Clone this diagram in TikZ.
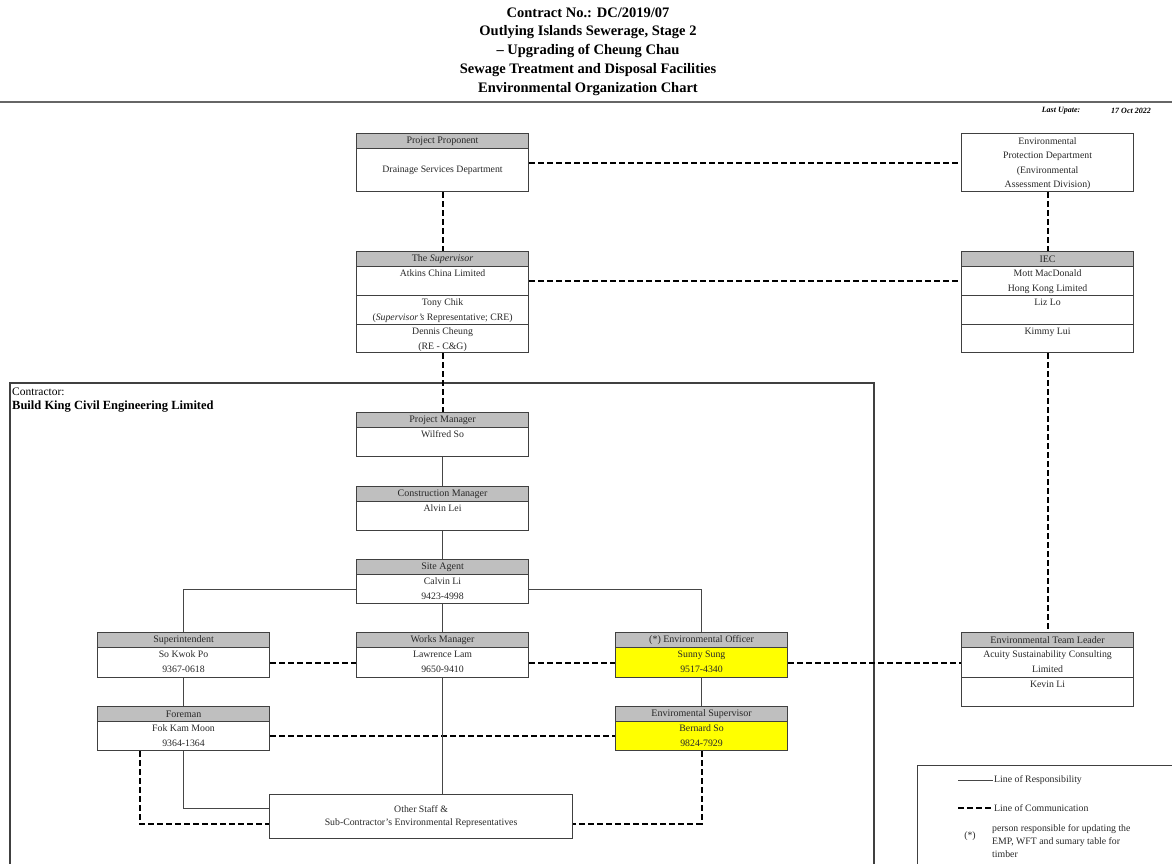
\documentclass[tikz,border=0pt]{standalone}
\usepackage{fontspec}
\setmainfont{Liberation Serif}
\definecolor{hdrc}{RGB}{191,191,191}
\definecolor{boxc}{RGB}{64,64,64}
\definecolor{linec}{RGB}{70,70,70}
\definecolor{txtc}{RGB}{40,40,40}
\definecolor{hiy}{RGB}{255,255,0}
\begin{document}
\begin{tikzpicture}[x=1pt,y=-1pt,
  sec/.style={draw=boxc, line width=1.1pt, minimum width=172pt, inner sep=0pt, anchor=north west, fill=white},
  hdr/.style={sec, fill=hdrc, minimum height=15pt, font=\fontsize{10}{12}\selectfont, text=txtc},
  txt/.style={inner sep=0pt, anchor=north, align=center, font=\fontsize{9.8}{14.5}\selectfont, text=txtc},
  resp/.style={draw=linec, line width=0.9pt},
  comm/.style={draw=black, line width=2pt, dash pattern=on 6pt off 3pt},
  ttl/.style={inner sep=0pt, font=\fontsize{14.5}{16}\selectfont\bfseries, text=black},
]
\useasboundingbox (0,0) rectangle (1172,864);
\clip (0,0) rectangle (1172,864);
\fill[white] (0,0) rectangle (1172,864);

% title
\node[ttl] (t1) at (588,13) {Contract No.: DC/2019/07};
\node[ttl] (t2) at (588,32) {Outlying Islands Sewerage, Stage 2};
\node[ttl] (t3) at (588,51) {– Upgrading of Cheung Chau};
\node[ttl] (t4) at (588,70) {Sewage Treatment and Disposal Facilities};
\node[ttl] (t5) at (588,89) {Environmental Organization Chart};
\draw[line width=1.8pt, black!60] (0,102) -- (1172,102);
\node[inner sep=0pt, font=\fontsize{8}{9}\selectfont\bfseries\itshape] (lu) at (1061,111) {Last Upate:};
\node[inner sep=0pt, font=\fontsize{8}{9}\selectfont\bfseries\itshape] (lud) at (1131,111) {17 Oct 2022};

% contractor frame
\draw[line width=1.8pt, draw=black!75] (10,383) rectangle (874,900);
\node[inner sep=0pt, anchor=west, font=\fontsize{11.5}{13}\selectfont] (ctr1) at (12,392) {Contractor:};
\node[inner sep=0pt, anchor=west, font=\fontsize{12.5}{14}\selectfont\bfseries] (ctr2) at (12,407) {Build King Civil Engineering Limited};

% Project Proponent
\node[hdr] (ppH) at (356,133) {Project Proponent};
\node[sec, minimum height=43pt] (ppA) at (356,148) {};
\node[txt, anchor=center] (ppAt) at (ppA.center) {Drainage Services Department};

% EPD
\node[sec, minimum height=58pt] (epd) at (961,133) {};
\node[txt] (epdt) at ([yshift=-0.8pt]epd.north) {\strut Environmental\\\strut Protection Department\\\strut (Environmental\\\strut Assessment Division)};

% Supervisor
\node[hdr] (supH) at (356,251) {The \textit{Supervisor}};
\node[sec, minimum height=29pt] (supA) at (356,266) {};
\node[sec, minimum height=29pt] (supB) at (356,295) {};
\node[sec, minimum height=28pt] (supC) at (356,324) {};
\node[txt] (supAt) at ([yshift=-0.5pt]supA.north) {\strut Atkins China Limited};
\node[txt] (supBt) at ([yshift=-0.5pt]supB.north) {\strut Tony Chik\\\strut (\textit{Supervisor's} Representative; CRE)};
\node[txt] (supCt) at ([yshift=-0.5pt]supC.north) {\strut Dennis Cheung\\\strut (RE - C\&G)};

% IEC
\node[hdr] (iecH) at (961,251) {IEC};
\node[sec, minimum height=29pt] (iecA) at (961,266) {};
\node[sec, minimum height=29pt] (iecB) at (961,295) {};
\node[sec, minimum height=28pt] (iecC) at (961,324) {};
\node[txt] (iecAt) at ([yshift=-0.5pt]iecA.north) {\strut Mott MacDonald\\\strut Hong Kong Limited};
\node[txt] (iecBt) at ([yshift=-0.5pt]iecB.north) {\strut Liz Lo};
\node[txt] (iecCt) at ([yshift=-0.5pt]iecC.north) {\strut Kimmy Lui};

% Project Manager
\node[hdr] (pmH) at (356,412) {Project Manager};
\node[sec, minimum height=29pt] (pmA) at (356,427) {};
\node[txt] (pmAt) at ([yshift=-0.5pt]pmA.north) {\strut Wilfred So};

% Construction Manager
\node[hdr] (cmH) at (356,486) {Construction Manager};
\node[sec, minimum height=29pt] (cmA) at (356,501) {};
\node[txt] (cmAt) at ([yshift=-0.5pt]cmA.north) {\strut Alvin Lei};

% Site Agent
\node[hdr] (saH) at (356,559) {Site Agent};
\node[sec, minimum height=29pt] (saA) at (356,574) {};
\node[txt] (saAt) at ([yshift=-0.5pt]saA.north) {\strut Calvin Li\\\strut 9423-4998};

% Superintendent
\node[hdr] (siH) at (97,632) {Superintendent};
\node[sec, minimum height=30pt] (siA) at (97,647) {};
\node[txt] (siAt) at ([yshift=-0.5pt]siA.north) {\strut So Kwok Po\\\strut 9367-0618};

% Works Manager
\node[hdr] (wmH) at (356,632) {Works Manager};
\node[sec, minimum height=30pt] (wmA) at (356,647) {};
\node[txt] (wmAt) at ([yshift=-0.5pt]wmA.north) {\strut Lawrence Lam\\\strut 9650-9410};

% Environmental Officer
\node[hdr] (eoH) at (615,632) {(*) Environmental Officer};
\node[sec, fill=hiy, minimum height=30pt] (eoA) at (615,647) {};
\node[txt] (eoAt) at ([yshift=-0.5pt]eoA.north) {\strut Sunny Sung\\\strut 9517-4340};

% Environmental Team Leader
\node[hdr] (etlH) at (961,632) {Environmental Team Leader};
\node[sec, minimum height=30pt] (etlA) at (961,647) {};
\node[sec, minimum height=29pt] (etlB) at (961,677) {};
\node[txt] (etlAt) at ([yshift=-0.5pt]etlA.north) {\strut Acuity Sustainability Consulting\\\strut Limited};
\node[txt] (etlBt) at ([yshift=-0.5pt]etlB.north) {\strut Kevin Li};

% Foreman
\node[hdr] (foH) at (97,706) {Foreman};
\node[sec, minimum height=29pt] (foA) at (97,721) {};
\node[txt] (foAt) at ([yshift=-0.5pt]foA.north) {\strut Fok Kam Moon\\\strut 9364-1364};

% Environmental Supervisor
\node[hdr] (esH) at (615,706) {Enviromental Supervisor};
\node[sec, fill=hiy, minimum height=29pt] (esA) at (615,721) {};
\node[txt] (esAt) at ([yshift=-0.5pt]esA.north) {\strut Bernard So\\\strut 9824-7929};

% Other staff
\node[sec, minimum width=303pt, minimum height=44pt, align=center, font=\fontsize{9.8}{13}\selectfont, text=txtc] (osB) at (269,794) {Other Staff \&\\Sub-Contractor's Environmental Representatives};

% lines of communication
\draw[comm] (ppA.south) -- (supH.north);
\draw[comm] (epd.west -| ppA.east) -- (epd.west);
\draw[comm] (epd.south) -- (iecH.north);
\draw[comm] (supA.east) -- (supA.east -| iecA.west);
\draw[comm] (supC.south) -- (pmH.north);
\draw[comm] (iecC.south) -- (etlH.north);
\draw[comm] (siA.east) -- (wmA.west);
\draw[comm] (wmA.east) -- (eoA.west);
\draw[comm] (eoA.east) -- (etlA.west);
\draw[comm] (foA.east) -- (esA.west);
\draw[comm] ([xshift=-44pt]foA.south) |- ([yshift=-7pt]osB.west);
\draw[comm] (esA.south) |- ([yshift=-7pt]osB.east);

% lines of responsibility
\draw[resp] (pmA.south) -- (cmH.north);
\draw[resp] (cmA.south) -- (saH.north);
\draw[resp] (saA.west) -| (siH.north);
\draw[resp] (saA.east) -| (eoH.north);
\draw[resp] (saA.south) -- (wmH.north);
\draw[resp] (siA.south) -- (foH.north);
\draw[resp] (eoA.south) -- (esH.north);
\draw[resp] (wmA.south) -- (wmA.south |- osB.north);
\draw[resp] (foA.south) |- ([yshift=8pt]osB.west);

% legend
\draw[draw=boxc, line width=1pt] (917,765) rectangle (1190,900);
\draw[resp] (958,780) -- (993,780);
\node[inner sep=0pt, anchor=west, font=\fontsize{9.8}{12}\selectfont, text=txtc] (lg1) at (994,780) {Line of Responsibility};
\draw[comm] (958,808) -- (993,808);
\node[inner sep=0pt, anchor=west, font=\fontsize{9.8}{12}\selectfont, text=txtc] (lg2) at (994,808) {Line of Communication};
\node[inner sep=0pt, font=\fontsize{9.8}{12}\selectfont, text=txtc] (lg3) at (970,836) {(*)};
\node[inner sep=0pt, anchor=north west, align=left, font=\fontsize{9.8}{13}\selectfont, text=txtc] (lg4) at (992,822) {\strut person responsible for updating the\\\strut EMP, WFT and sumary table for\\\strut timber};
\end{tikzpicture}
\end{document}
